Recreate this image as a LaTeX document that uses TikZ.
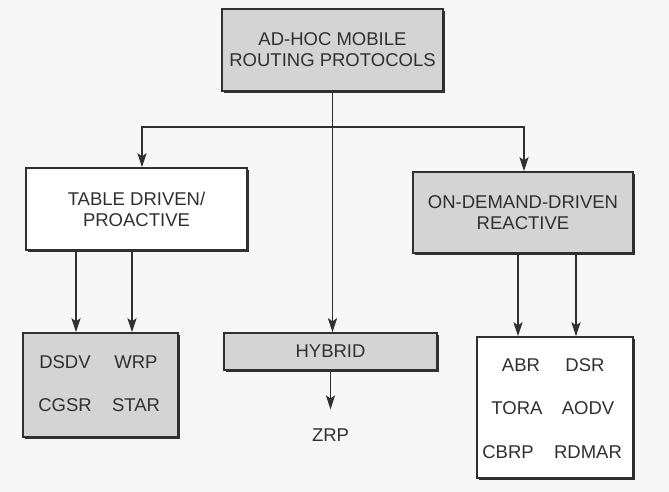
\documentclass[tikz,border=0pt]{standalone}
\usepackage{fontspec}
\setmainfont{Liberation Sans}
\usetikzlibrary{arrows.meta,shadows,calc}
\definecolor{ink}{HTML}{303030}
\definecolor{boxgray}{HTML}{D4D4D4}
\definecolor{paper}{HTML}{F7F7F7}
\begin{document}
\begin{tikzpicture}[x=1pt,y=-1pt,
  box/.style={draw=ink, line width=1.4pt, inner sep=0pt, align=center, text=ink,
    font=\fontsize{18.5}{21}\selectfont,
    drop shadow={shadow xshift=2pt, shadow yshift=-2pt, fill=ink, opacity=1}},
  graybox/.style={box, fill=boxgray},
  whitebox/.style={box, fill=white},
  lbl/.style={text=ink, inner sep=0pt, font=\fontsize{18.5}{21}\selectfont},
  arr/.style={draw=ink, line width=1.8pt, -{Stealth[length=14pt,width=9pt,inset=3pt]}}]
\fill[paper] (0,0) rectangle (669,492);
\useasboundingbox (0,0) rectangle (669,492);

\node[graybox, minimum width=221pt, minimum height=82pt] (root) at (332.5,50) {AD-HOC MOBILE\\ROUTING PROTOCOLS};
\node[whitebox, minimum width=221pt, minimum height=82pt] (table) at (136.5,209) {TABLE DRIVEN/\\PROACTIVE};
\node[graybox, minimum width=220pt, minimum height=81pt] (ondemand) at (523,212.5) {ON-DEMAND-DRIVEN\\REACTIVE};
\node[graybox, minimum width=155pt, minimum height=104pt] (proact) at (100.5,385) {};
\node[graybox, minimum width=213pt, minimum height=37pt] (hybrid) at (330.5,351.5) {HYBRID};
\node[whitebox, minimum width=156pt, minimum height=141pt] (react) at (555,407.5) {};

\node[lbl] (dsdv) at (65,362) {DSDV};
\node[lbl] (wrp) at (136,362) {WRP};
\node[lbl] (cgsr) at (65,405) {CGSR};
\node[lbl] (star) at (136,405) {STAR};

\node[lbl] (zrp) at (330.5,435) {ZRP};

\node[lbl] (abr) at (521,365) {ABR};
\node[lbl] (dsr) at (585,365) {DSR};
\node[lbl] (tora) at (517,408) {TORA};
\node[lbl] (aodv) at (588,408) {AODV};
\node[lbl] (cbrp) at (508,452) {CBRP};
\node[lbl] (rdmar) at (588,452) {RDMAR};

\coordinate (j) at ($(root.south)+(0,35)$);
\draw[arr] (root.south) -- (root.south |- hybrid.north);
\draw[arr] (j) -| ($(table.north)+(5.5,0)$);
\draw[arr] (j) -| ($(ondemand.north)+(1,0)$);

\draw[arr] ($(table.south)+(-60.5,0)$) -- ($(proact.north)+(-24.5,0)$);
\draw[arr] ($(table.south)+(-4.5,0)$) -- ($(proact.north)+(31.5,0)$);

\draw[arr] ($(ondemand.south)+(-5,0)$) -- ($(react.north)+(-37,0)$);
\draw[arr] ($(ondemand.south)+(53,0)$) -- ($(react.north)+(21,0)$);

\draw[arr] (hybrid.south) -- ($(zrp.north)+(0,-19)$);
\end{tikzpicture}
\end{document}
